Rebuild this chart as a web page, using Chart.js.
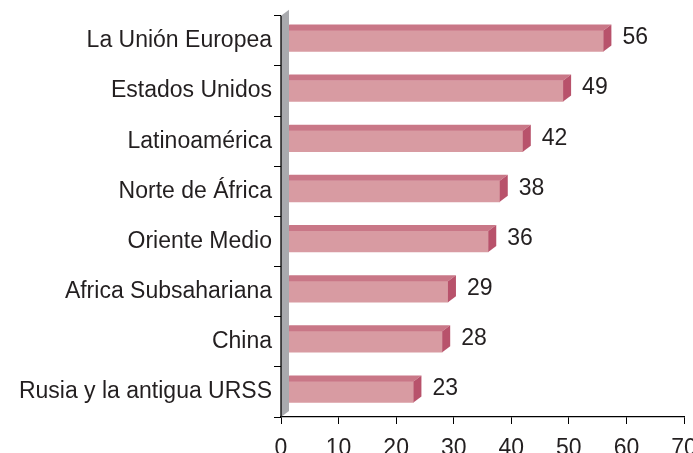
<!DOCTYPE html>
<html><head><meta charset="utf-8">
<script src="https://cdn.jsdelivr.net/npm/chart.js@4"></script>
<style>html,body{margin:0;padding:0;background:#fff}#wrap{width:693px;height:453px}</style>
</head><body><div id="wrap"><canvas id="c" width="693" height="453"></canvas></div>
<script>
const categories = ["La Unión Europea","Estados Unidos","Latinoamérica","Norte de África","Oriente Medio","Africa Subsahariana","China","Rusia y la antigua URSS"];
const values = [56,49,42,38,36,29,28,23];
const xTicks = [0,10,20,30,40,50,60,70];

const DX = 8, DY = 6;
const FONT = "'Liberation Sans', Arial, sans-serif";
const FS = 23;
const TXT = '#231f20';

const threeD = {
  id: 'threeD',
  afterDatasetsDraw(chart) {
    const ctx = chart.ctx;
    const meta = chart.getDatasetMeta(0);
    const xs = chart.scales.x, ys = chart.scales.y;
    ctx.save();
    meta.data.forEach((bar, i) => {
      const p = bar.getProps(['x','y','base','height'], true);
      const top = p.y - p.height/2, bot = p.y + p.height/2;
      ctx.fillStyle = '#c97787';
      ctx.beginPath();
      ctx.moveTo(p.base, top); ctx.lineTo(p.x, top);
      ctx.lineTo(p.x + DX, top - DY); ctx.lineTo(p.base + DX, top - DY);
      ctx.closePath(); ctx.fill();
      ctx.fillStyle = '#b8526b';
      ctx.beginPath();
      ctx.moveTo(p.x, top); ctx.lineTo(p.x + DX, top - DY);
      ctx.lineTo(p.x + DX, bot - DY); ctx.lineTo(p.x, bot);
      ctx.closePath(); ctx.fill();
      ctx.fillStyle = TXT;
      ctx.font = FS + 'px ' + FONT;
      ctx.textAlign = 'left'; ctx.textBaseline = 'middle';
      ctx.fillText(String(values[i]), p.x + 19, p.y - 3);
    });
    const l = xs.left, t = ys.top, b = ys.bottom;
    ctx.fillStyle = '#a9aaae';
    ctx.beginPath();
    ctx.moveTo(l, b); ctx.lineTo(l, t);
    ctx.lineTo(l + DX, t - DY); ctx.lineTo(l + DX, b - DY);
    ctx.closePath(); ctx.fill();
    ctx.strokeStyle = '#000'; ctx.lineWidth = 1.3;
    ctx.beginPath(); ctx.moveTo(l, t); ctx.lineTo(l, b); ctx.stroke();
    ctx.restore();
  }
};

new Chart(document.getElementById('c'), {
  type: 'bar',
  data: {
    labels: categories,
    datasets: [{ data: values, backgroundColor: '#d89ba2', borderWidth: 0, barThickness: 21 }]
  },
  options: {
    indexAxis: 'y',
    responsive: false,
    animation: false,
    events: [],
    layout: { padding: { top: 14, right: 9, left: 0, bottom: 0 } },
    plugins: { legend: { display: false }, tooltip: { enabled: false } },
    scales: {
      x: {
        min: 0, max: 70,
        afterBuildTicks(s) { s.ticks = xTicks.map(v => ({ value: v })); },
        afterFit(s) { s.height = 36; s.paddingRight = 0; s.paddingLeft = 0; },
        grid: { drawOnChartArea: false, drawTicks: true, tickLength: 7, color: '#000', lineWidth: 1 },
        border: { display: true, color: '#000', width: 1.3 },
        ticks: { color: TXT, font: { size: FS, family: FONT }, padding: 11, maxRotation: 0 }
      },
      y: {
        afterFit(s) { s.width = 281; },
        grid: { drawOnChartArea: false, drawTicks: true, tickLength: 7, color: '#000', lineWidth: 1, offset: true },
        border: { display: false },
        ticks: { color: TXT, font: { size: FS, family: FONT }, padding: 2 }
      }
    }
  },
  plugins: [threeD]
});
</script></body></html>
